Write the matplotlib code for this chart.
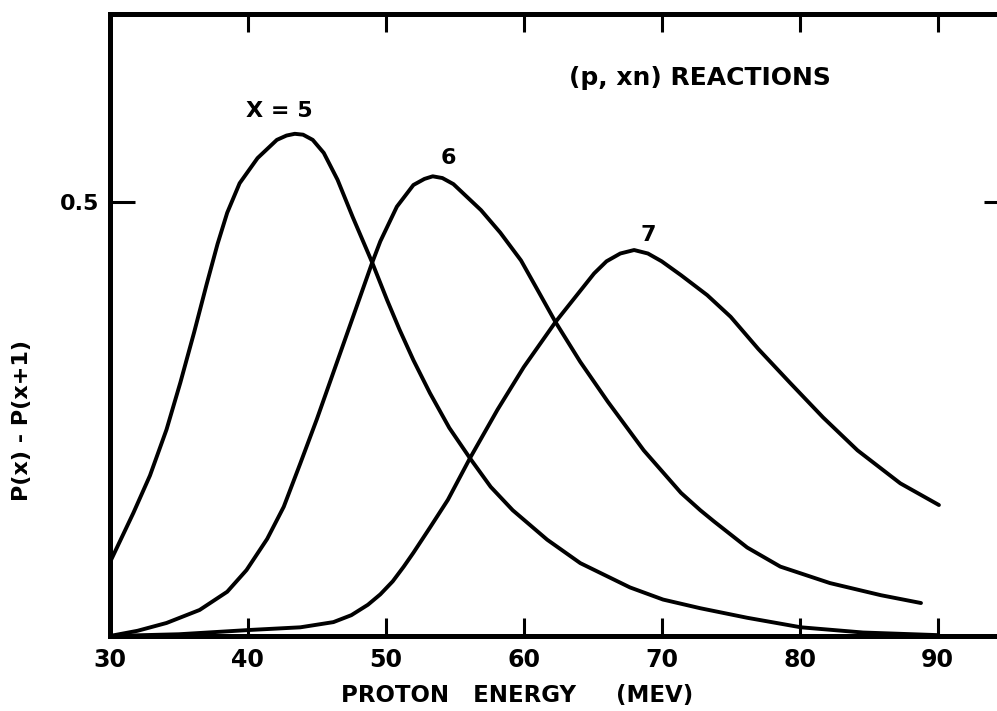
import matplotlib
matplotlib.use("Agg")
import matplotlib.pyplot as plt

# (p, xn) reaction curves
e5 = [30.0, 31.7, 32.9, 34.1, 35.1, 36.1, 37.0, 37.8, 38.5, 39.4, 40.7, 42.1, 42.8,
      43.4, 44.0, 44.7, 45.5, 46.5, 47.6, 49.0, 50.1, 51.0, 52.0, 53.2, 54.6, 56.1,
      57.6, 59.2, 61.7, 64.1, 67.7, 70.1, 72.8, 76.2, 80.1, 84.6, 90.0]
p5 = [0.085, 0.142, 0.185, 0.238, 0.292, 0.350, 0.405, 0.452, 0.488, 0.522, 0.551,
      0.572, 0.577, 0.579, 0.578, 0.572, 0.557, 0.526, 0.483, 0.431, 0.387, 0.353,
      0.318, 0.280, 0.240, 0.205, 0.172, 0.145, 0.111, 0.084, 0.056, 0.042, 0.032,
      0.021, 0.010, 0.004, 0.001]

e6 = [30.0, 32.0, 34.1, 36.5, 38.5, 39.9, 41.4, 42.6, 43.8, 45.0, 46.0, 47.4, 49.0,
      49.6, 50.8, 52.0, 52.8, 53.4, 54.1, 54.9, 56.9, 58.3, 59.8, 61.0, 62.3, 64.1,
      66.1, 68.7, 71.4, 72.8, 73.8, 76.2, 78.6, 82.2, 85.9, 88.8]
p6 = [0.000, 0.006, 0.015, 0.030, 0.051, 0.076, 0.112, 0.149, 0.199, 0.250, 0.295,
      0.358, 0.430, 0.455, 0.495, 0.520, 0.527, 0.530, 0.528, 0.521, 0.491, 0.465,
      0.433, 0.399, 0.362, 0.316, 0.270, 0.214, 0.165, 0.145, 0.132, 0.102, 0.080,
      0.061, 0.047, 0.038]

e7 = [30.0, 35.0, 40.2, 43.8, 46.2, 47.5, 48.7, 49.6, 50.5, 51.3, 52.0, 53.2, 54.5,
      56.1, 58.1, 60.0, 62.3, 65.1, 66.0, 67.0, 68.0, 69.0, 70.0, 71.4, 73.3, 75.0,
      77.0, 79.3, 81.7, 84.2, 87.3, 90.1]
p7 = [0.000, 0.002, 0.007, 0.010, 0.016, 0.024, 0.036, 0.048, 0.063, 0.080, 0.096,
      0.125, 0.157, 0.205, 0.261, 0.310, 0.362, 0.418, 0.432, 0.441, 0.445, 0.441,
      0.432, 0.416, 0.393, 0.368, 0.331, 0.292, 0.252, 0.214, 0.176, 0.151]

xticks = [30, 40, 50, 60, 70, 80, 90]
yticks = [0.5]

plt.rcParams['font.family'] = ['DejaVu Sans']
plt.rcParams['font.weight'] = 'bold'

fig = plt.figure(figsize=(9.97, 7.11), dpi=100)
ax = fig.add_axes([0.1103, 0.1055, 0.8937, 0.8755])

for e, p in [(e5, p5), (e6, p6), (e7, p7)]:
    ax.plot(e, p, color='black', lw=2.8, solid_capstyle='round', solid_joinstyle='round')

ax.set_xlim(30, 94.6)
ax.set_ylim(0, 0.7177)

for s in ax.spines.values():
    s.set_linewidth(3.6)

ax.set_xticks(xticks)
ax.set_yticks(yticks)
ax.set_yticklabels(['0.5'])
ax.tick_params(axis='x', direction='in', top=True, length=13, width=2.2,
               labelsize=17, pad=9)
ax.tick_params(axis='y', direction='in', right=True, length=18, width=2.2,
               labelsize=16, pad=8)
for t in ax.yaxis.get_major_ticks():
    t.tick2line.set_markersize(12)

ax.text(42.3, 0.605, 'X = 5', fontsize=16, ha='center', va='center')
ax.text(54.5, 0.551, '6', fontsize=16, ha='center', va='center')
ax.text(69.0, 0.462, '7', fontsize=16, ha='center', va='center')
ax.text(72.8, 0.643, '(p, xn) REACTIONS', fontsize=18, ha='center', va='center')

fig.text(0.5186, 0.0225, 'PROTON   ENERGY     (MEV)', fontsize=16.5,
         ha='center', va='center')
fig.text(0.022, 0.409, 'P(x) - P(x+1)', fontsize=16, rotation=90,
         ha='center', va='center')

fig.savefig('out.png', dpi=100)
